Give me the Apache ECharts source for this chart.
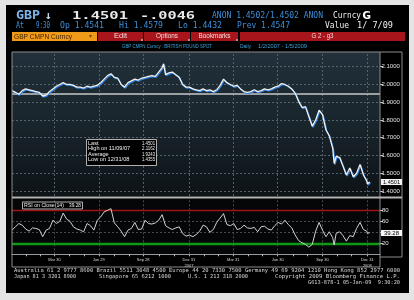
<!DOCTYPE html>
<html><head><meta charset="utf-8">
<script src="https://cdn.jsdelivr.net/npm/echarts@6/dist/echarts.min.js"></script>
<style>
html,body{margin:0;padding:0;background:#e4e4e4;width:414px;height:300px;overflow:hidden;}
#bg{position:absolute;left:6px;top:5px;width:403px;height:288px;background:#000;}
#c{position:absolute;left:0;top:0;width:414px;height:300px;}
</style>
</head><body><div id="bg"></div><div id="c"></div><script>
// ---- data ----
const priceDates = [
'2007-01-02','2007-01-09','2007-01-16','2007-01-23','2007-01-30',
'2007-02-06','2007-02-13','2007-02-20','2007-02-27',
'2007-03-06','2007-03-13','2007-03-20','2007-03-27',
'2007-04-03','2007-04-10','2007-04-17','2007-04-24',
'2007-05-01','2007-05-08','2007-05-15','2007-05-22','2007-05-29',
'2007-06-05','2007-06-12','2007-06-19','2007-06-26',
'2007-07-03','2007-07-10','2007-07-17','2007-07-24','2007-07-31',
'2007-08-07','2007-08-14','2007-08-21','2007-08-28',
'2007-09-04','2007-09-11','2007-09-18','2007-09-25',
'2007-10-02','2007-10-09','2007-10-16','2007-10-23','2007-10-30',
'2007-11-06','2007-11-09','2007-11-13','2007-11-20','2007-11-27',
'2007-12-04','2007-12-11','2007-12-18','2007-12-25',
'2008-01-01','2008-01-08','2008-01-15','2008-01-22','2008-01-29',
'2008-02-05','2008-02-12','2008-02-19','2008-02-26',
'2008-03-04','2008-03-11','2008-03-18','2008-03-25',
'2008-04-01','2008-04-08','2008-04-15','2008-04-22','2008-04-29',
'2008-05-06','2008-05-13','2008-05-20','2008-05-27',
'2008-06-03','2008-06-10','2008-06-17','2008-06-24',
'2008-07-01','2008-07-08','2008-07-15','2008-07-22','2008-07-29',
'2008-08-05','2008-08-12','2008-08-19','2008-08-26',
'2008-09-02','2008-09-09','2008-09-16','2008-09-23','2008-09-30',
'2008-10-07','2008-10-14','2008-10-21','2008-10-24','2008-10-28',
'2008-11-04','2008-11-11','2008-11-18','2008-11-25',
'2008-12-02','2008-12-09','2008-12-16','2008-12-23','2008-12-30','2008-12-31',
'2009-01-05'];
const priceValues = [
1.965,1.955,1.945,1.965,1.975,
1.970,1.965,1.960,1.955,
1.935,1.940,1.960,1.975,
1.990,2.000,2.010,2.000,
2.000,1.995,1.985,1.985,1.980,
1.990,1.985,1.990,1.995,
2.010,2.030,2.050,2.060,2.040,
2.035,2.000,1.985,2.010,
2.020,2.030,2.025,2.035,
2.040,2.045,2.050,2.045,2.070,
2.095,2.1162,2.055,2.065,2.070,
2.055,2.040,2.000,1.985,
1.985,1.975,1.970,1.965,1.975,
1.965,1.970,1.960,1.970,
1.995,2.030,2.010,2.000,
1.990,1.995,1.975,1.960,1.955,
1.960,1.970,1.960,1.965,
1.975,1.970,1.975,1.985,
1.990,2.005,2.000,1.990,1.975,
1.950,1.905,1.870,1.875,
1.820,1.765,1.800,1.855,1.830,
1.745,1.710,1.640,1.555,1.595,
1.590,1.540,1.490,1.530,
1.480,1.500,1.550,1.490,1.455,1.440,
1.4501];
const rsiValues = [
44,50,56,53,46,
42,48,47,45,
32,44,47,62,
56,60,75,64,
60,50,46,44,41,
56,52,44,62,
68,77,80,83,57,
50,42,32,44,
47,58,45,46,
62,56,55,57,62,
72,74,52,48,45,
48,50,38,33,
35,32,36,42,53,
50,40,45,58,
66,74,54,52,
56,45,47,53,48,
47,49,41,50,
51,46,44,52,
58,55,62,54,48,
35,25,21,18,
13,18,42,58,44,
32,41,30,17,38,
41,34,24,34,
32,47,58,45,42,38,
39.28];
const priceTicks = [1.4,1.5,1.6,1.7,1.8,1.9,2.0,2.1];
const rsiTicks = [20,40,60,80];
const quarterDates = ['2007-03-30','2007-06-29','2007-09-28','2007-12-31','2008-03-31','2008-06-30','2008-09-30','2008-12-31'];
const quarterLabels = ['Mar 30','Jun 29','Sep 28','Dec 31\n2007','Mar 31','Jun 30','Sep 30','Dec 31\n2008'];
const monthEnds = ['2007-01-31','2007-02-28','2007-03-30','2007-04-30','2007-05-31','2007-06-29','2007-07-31','2007-08-31','2007-09-28','2007-10-31','2007-11-30','2007-12-31',
'2008-01-31','2008-02-29','2008-03-31','2008-04-30','2008-05-30','2008-06-30','2008-07-31','2008-08-29','2008-09-30','2008-10-31','2008-11-28','2008-12-31'];
const avgLevel = 1.945;
const rsiHigh = 80, rsiLow = 20;
const statRows = [['Last','1.4501'],['High on 11/09/07','2.1162'],['Average','1.9243'],['Low on 12/31/08','1.4355']];
const lastPrice = '1.4501', lastRsi = '39.28';

// ---- build ----
const ts = d => { const p = d.split('-'); return Date.UTC(+p[0], +p[1]-1, +p[2]); };
const quarterTs = quarterDates.map(ts);
const monthTs = monthEnds.map(ts);
const pricePairs = priceDates.map((d,i)=>[ts(d), priceValues[i]]);
const rsiPairs = priceDates.map((d,i)=>[ts(d), rsiValues[i]]);
const xMin = ts('2007-01-02'), xMax = ts('2009-01-26');
const SANS = 'Liberation Sans';
const MONO = '"DejaVu Sans Mono"';
const mctx = document.createElement('canvas').getContext('2d');

function txt(x, y, text, font, fill, opts) {
  opts = opts || {};
  const o = {type:'text', x:x, y:y, z:100, silent:true,
    style:{text:text, font:font, fill:fill, align:opts.align||'left', verticalAlign:'middle', textAlign:opts.align||'left', textVerticalAlign:'middle'}};
  if (opts.width) { mctx.font = font; const w = mctx.measureText(text).width; o.scaleX = opts.width / w; }
  if (opts.scaleY) o.scaleY = opts.scaleY;
  return o;
}
function rect(x,y,w,h,fill,stroke,lw,z){
  return {type:'rect', z:z||90, silent:true, shape:{x:x,y:y,width:w,height:h}, style:{fill:fill||'none', stroke:stroke||null, lineWidth:lw||1}};
}
function line(x1,y1,x2,y2,color,w,z){
  return {type:'line', z:z||95, silent:true, shape:{x1:x1,y1:y1,x2:x2,y2:y2}, style:{stroke:color, lineWidth:w||1}};
}

const graphics = [];
graphics.push(txt(16,16,'GBP','bold 12px '+MONO,'#7db4ec',{width:24}));
graphics.push(txt(45,16,'↓','bold 11px '+MONO,'#cfe2f6'));
graphics.push(txt(72,16,'1.4501','bold 11px '+MONO,'#e8e8e8',{width:56}));
graphics.push(txt(140,16,'-.0046','bold 11px '+MONO,'#e8e8e8',{width:55}));
graphics.push(txt(212,16,'ANON 1.4502/1.4502 ANON','8px '+MONO,'#3d8fda',{width:111}));
graphics.push(txt(333,16,'Curncy','8px '+MONO,'#f0f0f0',{width:28}));
graphics.push(txt(362,16,'G','bold 10px '+MONO,'#ffffff',{width:9}));
[['At',16,8],['9:30',36,14],['Op 1.4541',60,44],['Hi 1.4579',119,44],['Lo 1.4432',178,44],['Prev 1.4547',237,53]].forEach(p=>{
  graphics.push(txt(p[1],26,p[0],'8px '+MONO,'#3d8fda',{width:p[2]}));
});
graphics.push(txt(325,26,'Value','8px '+MONO,'#f0f0f0',{width:24}));
graphics.push(txt(357,26,'1/ 7/09','8px '+MONO,'#f0f0f0',{width:36}));
graphics.push(rect(12,32,85,9,'#f09a1a',null,0,80));
graphics.push(txt(14,36.6,'GBP CMPN Curncy','7.5px '+SANS,'#3a1e00',{width:58}));
graphics.push(txt(89,36.6,'▾','6px '+SANS,'#7a4a00'));
[[98,45,'Edit',13],[144,46,'Options',22],[191,47,'Bookmarks',32],[240,165,'G 2 - g3',22]].forEach(t=>{
  graphics.push(rect(t[0],32,t[1],9,'#a8161c',null,0,80));
  graphics.push(txt(t[0]+t[1]/2,36.4,t[2],'7.5px '+SANS,'#f4d8d8',{align:'center', width:t[3]}));
});
[141,188,236].forEach(x=>graphics.push(rect(x,39.5,2,1,'#f0f0f0',null,0,85)));
graphics.push(txt(122,46.5,'GBP CMPN Curncy : BRITISH POUND SPOT','4.8px '+SANS,'#3aa0d8',{width:90}));
graphics.push(txt(240,46.5,'Daily','4.8px '+SANS,'#3aa0d8',{width:11}));
graphics.push(txt(258,46.5,'1/2/2007 - 1/5/2009','4.8px '+SANS,'#3aa0d8',{width:49}));
graphics.push(line(12,52,402,52,'#8c8c8c',1));
graphics.push(line(402,52,402,257,'#8c8c8c',1));
graphics.push(line(380,257,402,257,'#8c8c8c',1));
graphics.push(line(12,52,12,267,'#8c8c8c',1));
graphics.push(line(12,267,380,267,'#8c8c8c',1));
graphics.push(line(380,52,380,267,'#8c8c8c',1));
graphics.push(line(12,197.5,402,197.5,'#b4b4b4',2));
graphics.push(rect(86.5,139.5,70,26,'#000','#b0b0b0',1,98));
statRows.forEach((r,i)=>{
  graphics.push(txt(88,143+i*5.6,r[0],'5.6px '+SANS,'#f0f0f0'));
  graphics.push(txt(155,143+i*5.6,r[1],'5.6px '+SANS,'#f0f0f0',{align:'right', width:13}));
});
graphics.push(rect(22.5,202,60,7,'#000','#b0b0b0',1,98));
graphics.push(txt(24,205.6,'RSI on Close(14)','5.6px '+SANS,'#f0f0f0',{width:40}));
graphics.push(txt(81,205.6,lastRsi,'5.6px '+SANS,'#f0f0f0',{align:'right', width:12}));
graphics.push(rect(381,179,21,6,'#f4f4f4',null,0,98));
graphics.push(txt(391.5,182.2,lastPrice,'5.8px '+SANS,'#000',{align:'center', width:17}));
graphics.push(rect(381,230,21,6,'#f4f4f4',null,0,98));
graphics.push(txt(391.5,233.2,lastRsi,'5.8px '+SANS,'#000',{align:'center', width:15}));
graphics.push(txt(14,270.8,'Australia 61 2 9777 8600 Brazil 5511 3048 4500 Europe 44 20 7330 7500 Germany 49 69 9204 1210 Hong Kong 852 2977 6000','5.4px '+MONO,'#d8d8d8',{width:386}));
graphics.push(txt(14,276.3,'Japan 81 3 3201 8900','5.4px '+MONO,'#d8d8d8',{width:62}));
graphics.push(txt(99,276.3,'Singapore 65 6212 1000','5.4px '+MONO,'#d8d8d8',{width:72}));
graphics.push(txt(188,276.3,'U.S. 1 212 318 2000','5.4px '+MONO,'#d8d8d8',{width:60}));
graphics.push(txt(400,276.3,'Copyright 2009 Bloomberg Finance L.P.','5.4px '+MONO,'#d8d8d8',{align:'right', width:125}));
graphics.push(txt(400,282.3,'G613-878-1 05-Jan-09  9:30:20','5.4px '+MONO,'#d8d8d8',{align:'right', width:92}));

const gridDash = {color:'#56626b', type:[2,2], width:1};
const priceMarks = [];
priceTicks.forEach(v=>priceMarks.push({yAxis:v, lineStyle:gridDash}));
quarterTs.forEach(t=>priceMarks.push({xAxis:t, lineStyle:gridDash}));
priceMarks.push({yAxis:avgLevel, lineStyle:{color:'#c8c8c8', width:1.5, type:'solid'}});
const rsiDash = {color:'#4a4a4a', type:[2,2], width:1};
const rsiMarks = [];
[40,60].forEach(v=>rsiMarks.push({yAxis:v, lineStyle:rsiDash}));
quarterTs.forEach(t=>rsiMarks.push({xAxis:t, lineStyle:rsiDash}));
rsiMarks.push({yAxis:rsiHigh, lineStyle:{color:'#a01414', width:1.3, type:'solid'}});
rsiMarks.push({yAxis:rsiLow, lineStyle:{color:'#0f9a16', width:2.4, type:'solid'}});

const option = {
  animation:false,
  backgroundColor:'transparent',
  graphic: graphics,
  grid:[
    {left:12, right:34, top:52, height:144, show:true, borderWidth:0,
     backgroundColor:{type:'linear', x:0, y:0, x2:0, y2:1, colorStops:[{offset:0,color:'#21303a'},{offset:0.45,color:'#1a262d'},{offset:1,color:'#0d1317'}]}},
    {left:12, right:34, top:199.3, height:55, show:true, borderWidth:0, backgroundColor:'#050607'}
  ],
  xAxis:[
    {type:'value', gridIndex:0, min:xMin, max:xMax, axisLine:{show:false}, axisTick:{show:false}, axisLabel:{show:false}, splitLine:{show:false}},
    {type:'value', gridIndex:1, min:xMin, max:xMax,
     axisLine:{show:true, lineStyle:{color:'#9a9a9a', width:1}},
     axisTick:{show:true, customValues:monthTs, length:2, lineStyle:{color:'#bbbbbb'}},
     axisLabel:{show:true, customValues:quarterTs, color:'#dcdcdc', fontSize:4, fontFamily:SANS, margin:2.5, lineHeight:6,
       formatter:function(v){ for(let i=0;i<quarterTs.length;i++){ if(Math.abs(quarterTs[i]-v)<43200000) return quarterLabels[i]; } return ''; }},
     splitLine:{show:false}}
  ],
  yAxis:[
    {type:'value', gridIndex:0, position:'right', min:1.3718, max:2.1828,
     axisLine:{show:false}, axisTick:{show:true, customValues:priceTicks, length:3, lineStyle:{color:'#c8c8c8'}},
     axisLabel:{show:true, customValues:priceTicks, color:'#e4e4e4', fontSize:6, fontFamily:SANS, margin:1.5, formatter:v=>v.toFixed(4)},
     splitLine:{show:false}},
    {type:'value', gridIndex:1, position:'right', min:0, max:100,
     axisLine:{show:false}, axisTick:{show:true, customValues:rsiTicks, length:3, lineStyle:{color:'#c8c8c8'}},
     axisLabel:{show:true, customValues:rsiTicks, color:'#e4e4e4', fontSize:6, fontFamily:SANS, margin:2},
     splitLine:{show:false}}
  ],
  series:[
    {type:'line', xAxisIndex:0, yAxisIndex:0, data:[], z:1, silent:true,
     markLine:{silent:true, symbol:['none','none'], label:{show:false}, data:priceMarks, animation:false}},
    {type:'line', xAxisIndex:1, yAxisIndex:1, data:[], z:1, silent:true,
     markLine:{silent:true, symbol:['none','none'], label:{show:false}, data:rsiMarks, animation:false}},
    {type:'line', xAxisIndex:0, yAxisIndex:0, data:pricePairs, symbol:'none', showSymbol:false, z:5, silent:true,
     lineStyle:{color:'#f2f2f2', width:1.3, shadowColor:'#2f86e8', shadowOffsetX:0.8, shadowOffsetY:1, shadowBlur:0}},
    {type:'line', xAxisIndex:1, yAxisIndex:1, data:rsiPairs, symbol:'none', showSymbol:false, z:5, silent:true,
     lineStyle:{color:'#d2d2d2', width:1}}
  ]
};
const chart = echarts.init(document.getElementById('c'));
chart.setOption(option);
</script></body></html>
